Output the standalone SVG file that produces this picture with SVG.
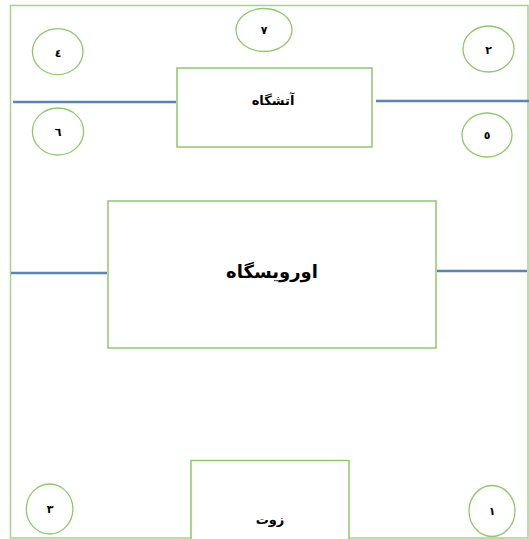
<svg xmlns="http://www.w3.org/2000/svg" width="529" height="539" viewBox="0 0 529 539">
<style>
.frame{fill:none;stroke:#a9d18e;stroke-width:1.5}
.box{fill:#fff;stroke:#8dc96b;stroke-width:1.5}
.circ{fill:#fff;stroke:#8dc96b;stroke-width:1.3}
.wire{stroke:#5b84b1;stroke-width:2.5;fill:none}
.lbl{font-family:"DejaVu Sans",sans-serif;font-weight:bold;fill:#000;text-anchor:middle}
.num{font-size:11px}
</style>
<rect width="529" height="539" fill="#fff"/>
<g id="frame">
<path class="frame" d="M191 538 H10.5 V5.5 H528 V538 H349"/>
</g>
<g id="connectors">
<line class="wire" x1="13" y1="102" x2="176" y2="102"/>
<line class="wire" x1="376" y1="101" x2="529" y2="101"/>
<line class="wire" x1="11" y1="273" x2="107" y2="273"/>
<line class="wire" x1="437" y1="271" x2="527" y2="271"/>
</g>
<g id="atashgah">
<rect class="box" x="177" y="68" width="195" height="79"/>
<text class="lbl" x="273" y="105" font-size="13" direction="rtl" style="text-anchor:middle">آتشگاه</text>
</g>
<g id="ourvisgah">
<rect class="box" x="108" y="201" width="328" height="147"/>
<text class="lbl" x="272" y="278" font-size="18" direction="rtl" style="text-anchor:middle">اورویسگاه</text>
</g>
<g id="zoot">
<path class="box" d="M191 539 V460.5 H349 V539"/>
<text class="lbl" x="270" y="524" font-size="13" direction="rtl" style="text-anchor:middle">زوت</text>
</g>
<g id="n7"><ellipse class="circ" cx="264" cy="30" rx="28" ry="21.5"/><text class="lbl num" x="264" y="34">٧</text></g>
<g id="n4"><ellipse class="circ" cx="57.7" cy="51.6" rx="25.3" ry="23"/><text class="lbl num" x="58" y="57">٤</text></g>
<g id="n2"><ellipse class="circ" cx="488.5" cy="49" rx="25.5" ry="23"/><text class="lbl num" x="488.5" y="54">٢</text></g>
<g id="n6"><ellipse class="circ" cx="58" cy="131.5" rx="25.6" ry="23.5"/><text class="lbl num" x="58" y="136">٦</text></g>
<g id="n5"><ellipse class="circ" cx="487" cy="135" rx="25" ry="22"/><text class="lbl num" x="487" y="139">٥</text></g>
<g id="n3"><ellipse class="circ" cx="49.6" cy="509" rx="23.3" ry="25"/><text class="lbl num" x="50" y="513">٣</text></g>
<g id="n1"><ellipse class="circ" cx="492" cy="511" rx="23" ry="25.5"/><text class="lbl num" x="492" y="515">١</text></g>
</svg>
